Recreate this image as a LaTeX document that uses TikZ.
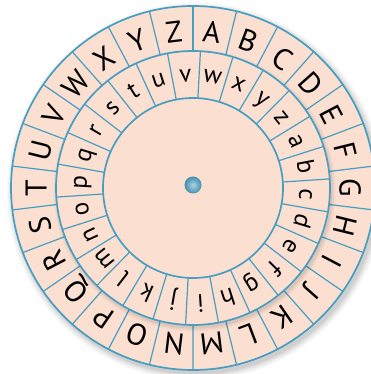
\documentclass[tikz,border=0pt]{standalone}
\usepackage{fontspec}
\setmainfont{PT Sans}
\definecolor{peach}{RGB}{251,223,209}
\definecolor{rim}{RGB}{72,158,192}
\begin{document}
\begin{tikzpicture}[x=1pt,y=1pt,
  upperletter/.style={font=\fontsize{30}{30}\selectfont, anchor=base, inner sep=0pt},
  lowerletter/.style={font=\fontsize{25}{25}\selectfont, anchor=base, inner sep=0pt},
  rimline/.style={draw=rim, line width=1.7pt},
  divline/.style={draw=rim, line width=1.2pt}]
\useasboundingbox (0,0) rectangle (371,374);
\begin{scope}[shift={(193,186)}]
  % drop shadow of the outer wheel
  \foreach \s/\o in {7/0.025,5.5/0.03,4/0.04,2.5/0.05,1/0.06}
    \fill[black, opacity=\o] (2.5,-3.5) circle (182+\s);
  % outer wheel
  \fill[peach] (0,0) circle (182);
  \foreach \k in {0,...,25}
    \draw[divline] ({90-\k*13.846}:137) -- ({90-\k*13.846}:182);
  \draw[rimline] (0,0) circle (182);
  \foreach \L [count=\i from 0] in {A,...,Z}
    \node[upperletter, rotate={-(\i+0.5)*13.846}] (U\i) at ({90-(\i+0.5)*13.846}:146.5) {\L};
  % shadow of the inner wheel
  \foreach \s/\o in {4/0.03,2.5/0.04,1/0.05}
    \fill[black, opacity=\o] (1.5,-2.5) circle (137+\s);
  % inner wheel
  \fill[peach] (0,0) circle (137);
  \foreach \k in {0,...,25}
    \draw[divline] ({31.5-\k*13.846}:90) -- ({31.5-\k*13.846}:137);
  \draw[rimline] (0,0) circle (137);
  \draw[rimline] (0,0) circle (90);
  \foreach \L [count=\i from 0] in {a,...,z}
    \node[lowerletter, rotate={24.6-\i*13.846-90}] (l\i) at ({24.6-\i*13.846}:106.5) {\L};
  % centre pin
  \shade[inner color=rim!45!white, outer color=rim!90!black] (0,3) circle (8.5);
  \node[inner sep=0pt, minimum size=0pt] (pin) at (0,3) {};
\end{scope}
\end{tikzpicture}
\end{document}
